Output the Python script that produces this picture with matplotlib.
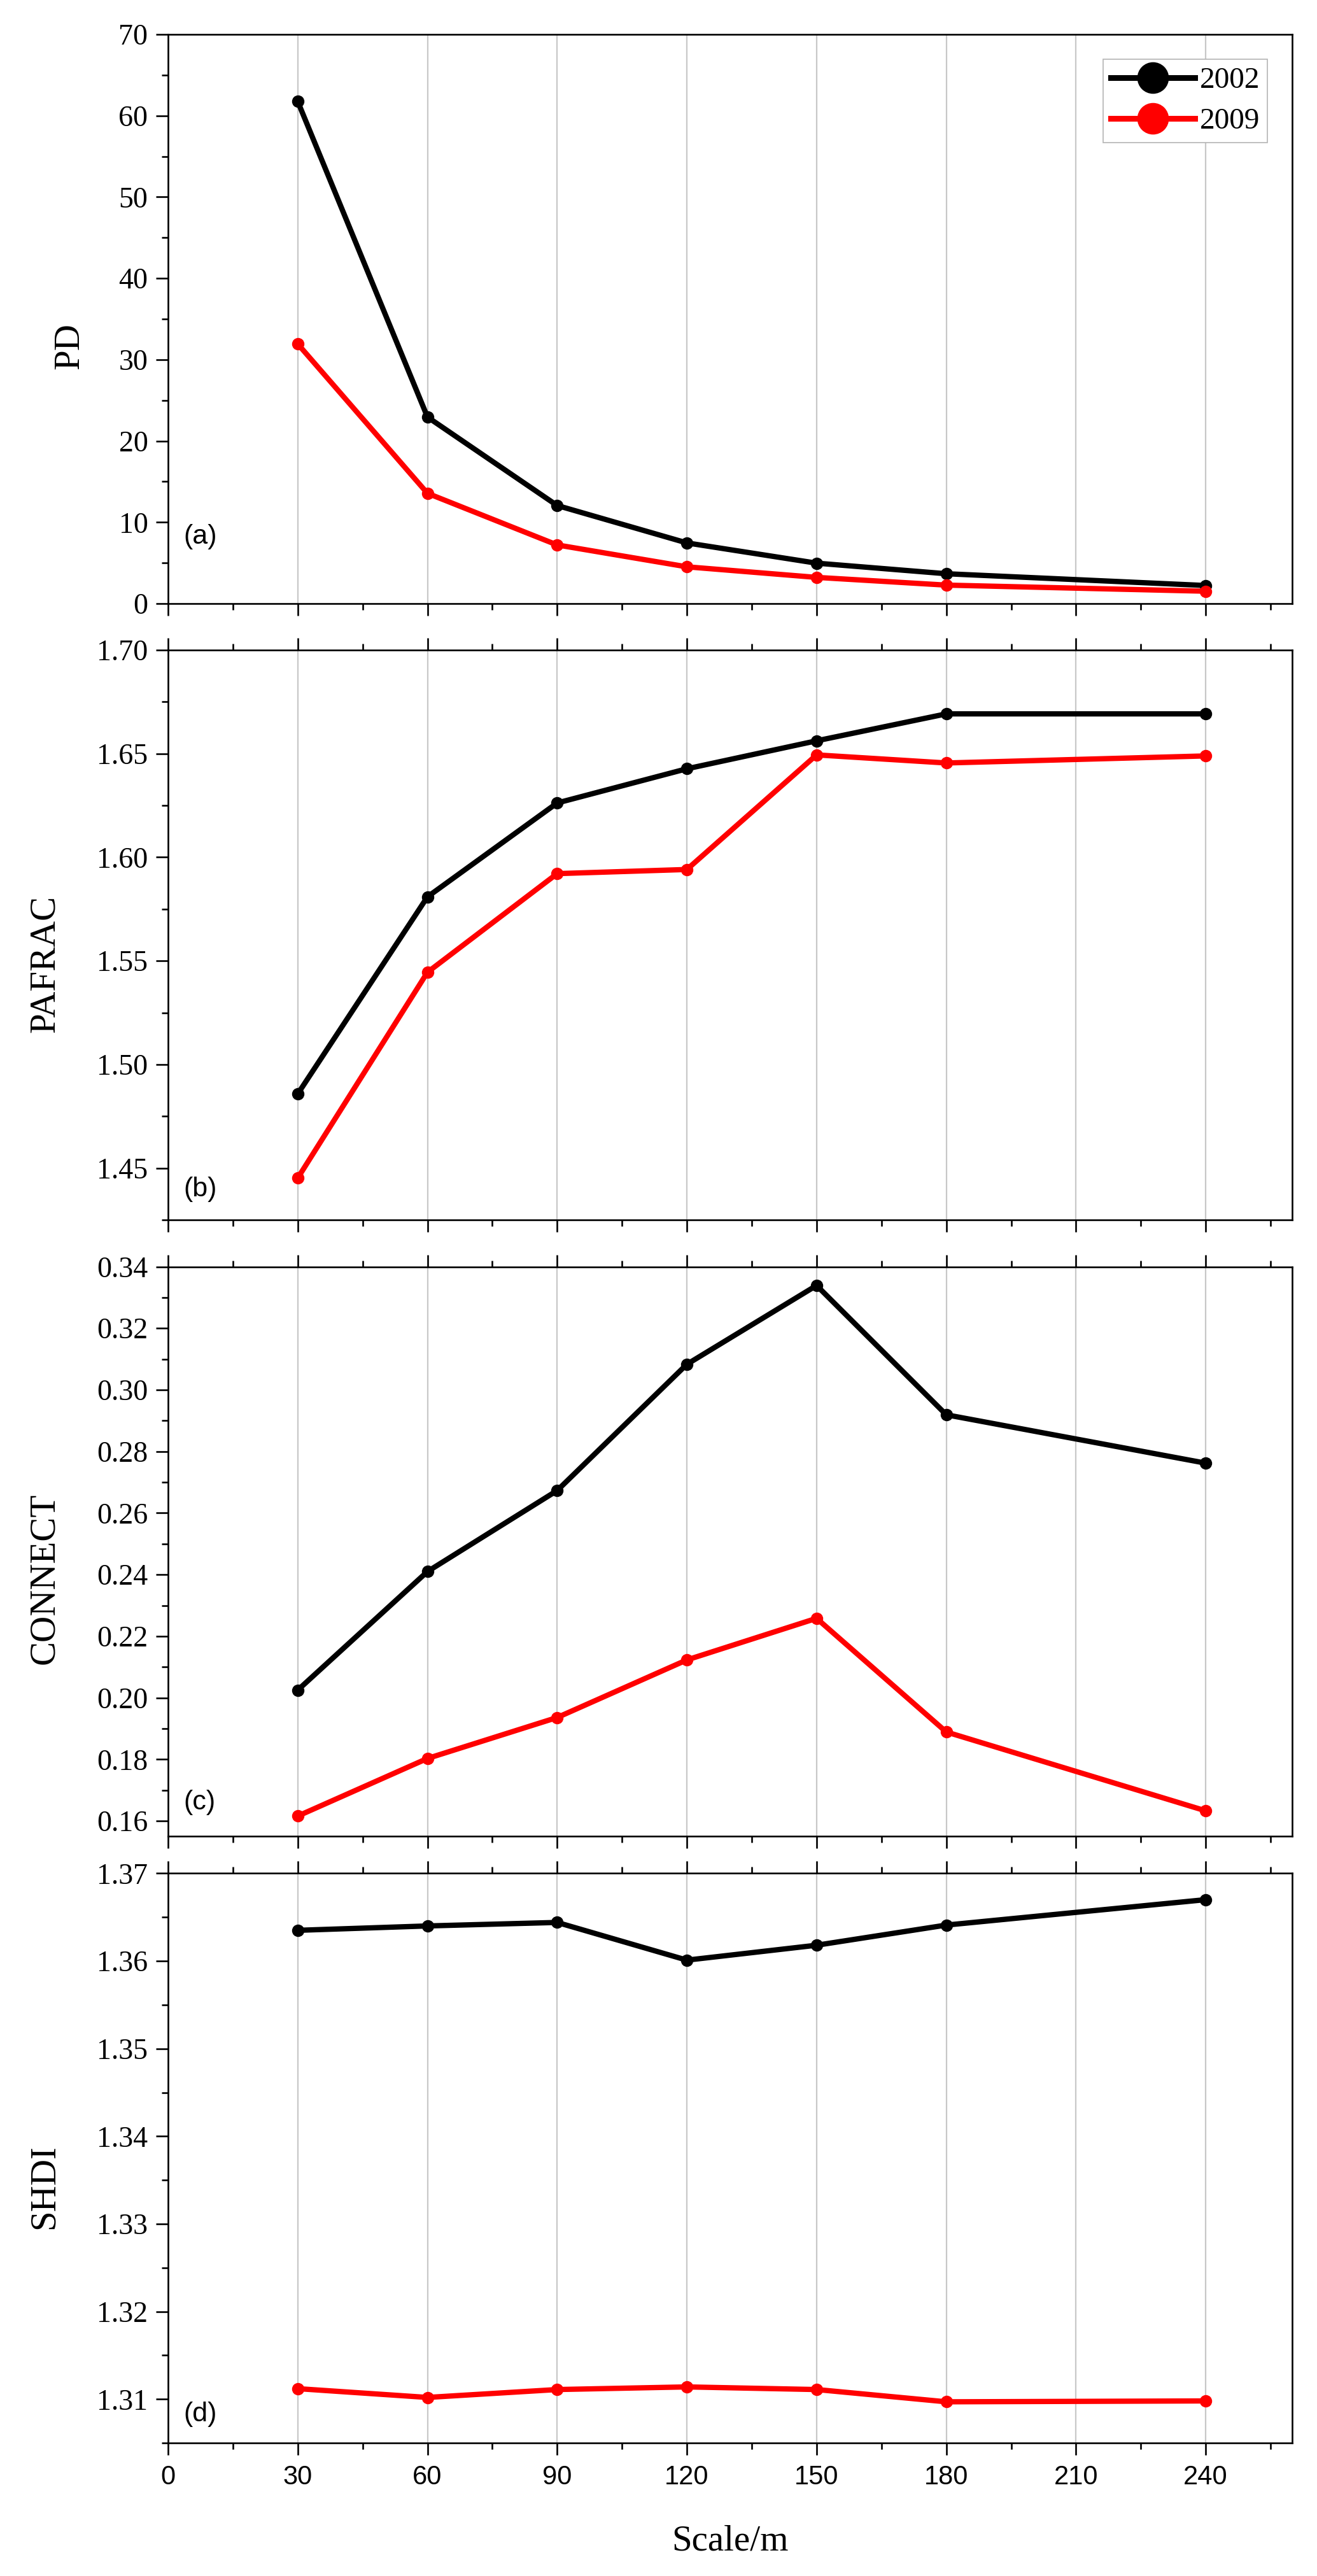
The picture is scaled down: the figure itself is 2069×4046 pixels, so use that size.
import matplotlib
matplotlib.use("Agg")
import matplotlib.pyplot as plt
from matplotlib.ticker import MultipleLocator, FormatStrFormatter

# ---------------- data ----------------
scale = [30, 60, 90, 120, 150, 180, 240]
years = ["2002", "2009"]

pd_2002 = [61.75, 22.94, 12.06, 7.46, 4.97, 3.67, 2.22]
pd_2009 = [31.93, 13.56, 7.21, 4.52, 3.22, 2.27, 1.52]
pafrac_2002 = [1.4858, 1.5809, 1.6262, 1.6427, 1.6562, 1.6692, 1.6692]
pafrac_2009 = [1.4452, 1.5445, 1.5921, 1.5941, 1.6494, 1.6455, 1.6489]
connect_2002 = [0.2025, 0.2410, 0.2673, 0.3083, 0.3339, 0.2919, 0.2762]
connect_2009 = [0.1616, 0.1803, 0.1936, 0.2123, 0.2258, 0.1889, 0.1633]
shdi_2002 = [1.3635, 1.3640, 1.3644, 1.3601, 1.3618, 1.3641, 1.3670]
shdi_2009 = [1.3112, 1.3102, 1.3111, 1.3114, 1.3111, 1.3097, 1.3098]

ylabels = ["PD", "PAFRAC", "CONNECT", "SHDI"]
panel_tags = ["(a)", "(b)", "(c)", "(d)"]
x_label = "Scale/m"

# ---------------- style ----------------
W, H = 2069, 4046
DPI = 100
fig = plt.figure(figsize=(W / DPI, H / DPI), dpi=DPI)
fig.patch.set_facecolor("white")

SERIF = ["Liberation Serif", "DejaVu Serif"]
SANS = ["Liberation Sans", "DejaVu Sans"]
colors = ["#000000", "#ff0000"]

left_px, right_px = 264, 2030
panels_px = [(54, 948), (1021, 1916), (1989.5, 2884.3), (2942.4, 3837.1)]
ylims = [(0, 70), (1.425, 1.70), (0.155, 0.34), (1.305, 1.37)]
ymajor = [10, 0.05, 0.02, 0.01]
yminor = [5, 0.025, 0.01, 0.005]
yfmt = ["%d", "%.2f", "%.2f", "%.2f"]
ylabel_y_px = [544, 1514, 2479, 3435]
ylabel_x_px = [109, 71, 70, 70]
tag_y_px = [843, 1868, 2831, 3792]

series = [(pd_2002, pd_2009), (pafrac_2002, pafrac_2009),
          (connect_2002, connect_2009), (shdi_2002, shdi_2009)]

LW_SPINE = 1.9
axes = []
for i, (top, bot) in enumerate(panels_px):
    ax = fig.add_axes([left_px / W, 1 - bot / H, (right_px - left_px) / W, (bot - top) / H])
    axes.append(ax)
    for s in ax.spines.values():
        s.set_linewidth(LW_SPINE)
        s.set_color("black")
    ax.set_xlim(0, 260)
    ax.set_ylim(*ylims[i])
    ax.xaxis.set_major_locator(MultipleLocator(30))
    ax.xaxis.set_minor_locator(MultipleLocator(15))
    ax.yaxis.set_major_locator(MultipleLocator(ymajor[i]))
    ax.yaxis.set_minor_locator(MultipleLocator(yminor[i]))
    ax.yaxis.set_major_formatter(FormatStrFormatter(yfmt[i]))

    ax.grid(True, axis="x", which="major", color="#c8c8c8", linewidth=1.6, zorder=0)
    ax.set_axisbelow(True)

    top_ticks = i > 0
    ax.tick_params(axis="x", which="both", direction="out", bottom=True, top=top_ticks,
                   labelbottom=(i == 3), labeltop=False, width=LW_SPINE, color="black")
    ax.tick_params(axis="x", which="major", length=13.7, pad=11)
    ax.tick_params(axis="x", which="minor", length=7.5)
    ax.tick_params(axis="y", which="both", direction="out", left=True, right=False,
                   width=LW_SPINE, color="black")
    ax.tick_params(axis="y", which="major", length=13.7, pad=9)
    ax.tick_params(axis="y", which="minor", length=7.5)

    for lab in ax.get_yticklabels():
        lab.set_family(SERIF)
        lab.set_fontsize(33)
    for lab in ax.get_xticklabels():
        lab.set_family(SANS)
        lab.set_fontsize(30)

    for yvals, c, yr in zip(series[i], colors, years):
        ax.plot(scale, yvals, color=c, linewidth=6.0, marker="o", markersize=13,
                markeredgecolor=c, markerfacecolor=c, label=yr, zorder=3,
                solid_joinstyle="round")

    fig.text(288 / W, 1 - tag_y_px[i] / H, panel_tags[i], family=SANS, fontsize=31,
             ha="left", va="center")
    fig.text(ylabel_x_px[i] / W, 1 - ylabel_y_px[i] / H, ylabels[i], family=SERIF,
             fontsize=41, rotation=90, ha="center", va="center")

# legend on panel (a)
leg = axes[0].legend(loc="upper right", prop={"family": SERIF, "size": 34},
                     markerscale=2.67, handlelength=2.8, handletextpad=0.15,
                     borderpad=0.25, labelspacing=0.45, borderaxespad=0.83,
                     frameon=True, fancybox=False, framealpha=1.0)
leg.get_frame().set_edgecolor("#b4b4b4")
leg.get_frame().set_linewidth(1.2)
for h in leg.get_lines():
    h.set_linewidth(6.5)

fig.text((left_px + right_px) / 2 / W, 1 - 4005 / H, x_label, family=SERIF, fontsize=41,
         ha="center", va="baseline")

fig.savefig("out.png", dpi=DPI, facecolor="white")
